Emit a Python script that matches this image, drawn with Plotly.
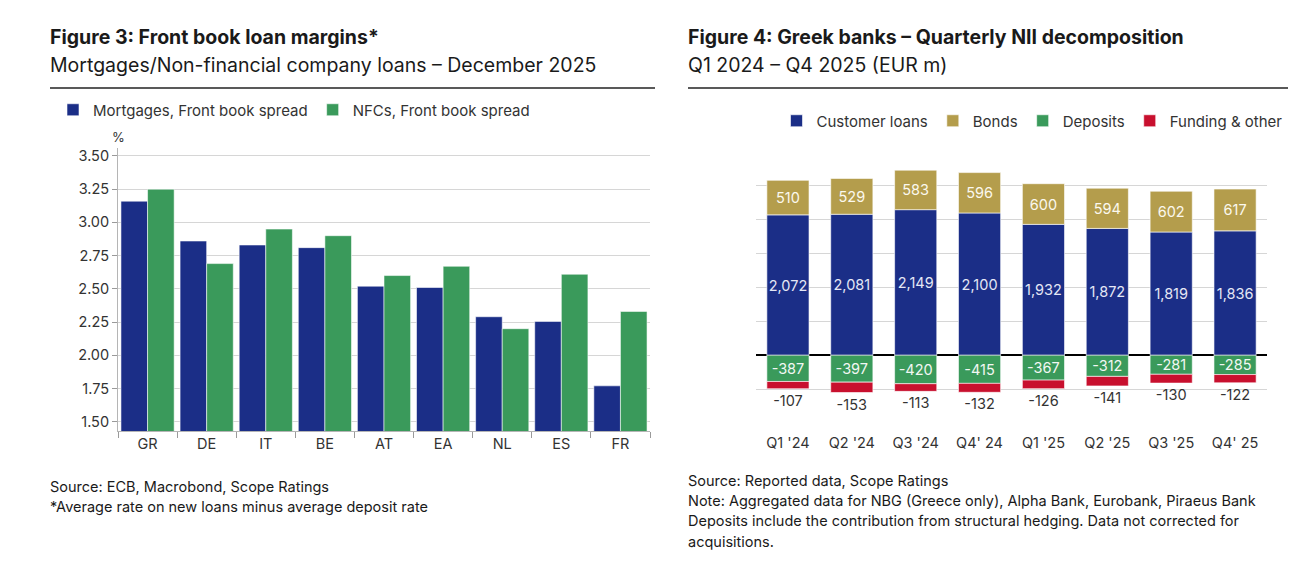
import plotly.graph_objects as go

# ---- Figure 3 data ----
countries = ["GR", "DE", "IT", "BE", "AT", "EA", "NL", "ES", "FR"]
mortgages = [3.16, 2.86, 2.83, 2.81, 2.52, 2.51, 2.29, 2.255, 1.77]
nfcs = [3.25, 2.69, 2.95, 2.90, 2.60, 2.67, 2.20, 2.61, 2.33]
ticks_left = [1.50, 1.75, 2.00, 2.25, 2.50, 2.75, 3.00, 3.25, 3.50]

# ---- Figure 4 data ----
quarters = ["Q1 '24", "Q2 '24", "Q3 '24", "Q4' 24", "Q1 '25", "Q2 '25", "Q3 '25", "Q4' 25"]
customer_loans = [2072, 2081, 2149, 2100, 1932, 1872, 1819, 1836]
bonds = [510, 529, 583, 596, 600, 594, 602, 617]
deposits = [-387, -397, -420, -415, -367, -312, -281, -285]
funding = [-107, -153, -113, -132, -126, -141, -130, -122]

BLUE = "#1b2e87"
GREEN = "#3a9a5b"
GOLD = "#b49d4c"
RED = "#c8102e"
FONT = "Inter"
OFF = 8  # default page body margin
W, H = 1310 - 2 * OFF, 561 - 2 * OFF


def px(x):
    return (x - OFF) / W


def py(y):
    return 1 - (y - OFF) / H


fig = go.Figure()

# Left chart (grouped: separate offset groups)
fig.add_trace(go.Bar(x=countries, y=mortgages, name="Mortgages, Front book spread",
                     offsetgroup="mort",
                     marker=dict(color=BLUE, line=dict(color="rgba(255,255,255,0.7)", width=0.8)),
                     xaxis="x", yaxis="y", legend="legend", hoverinfo="x+y"))
fig.add_trace(go.Bar(x=countries, y=nfcs, name="NFCs, Front book spread",
                     offsetgroup="nfc",
                     marker=dict(color=GREEN, line=dict(color="rgba(255,255,255,0.7)", width=0.8)),
                     xaxis="x", yaxis="y", legend="legend", hoverinfo="x+y"))

# Right chart (stacked: one offset group)
common = dict(xaxis="x2", yaxis="y2", legend="legend2", constraintext="none",
              textangle=0, cliponaxis=False, offsetgroup="nii", width=0.66)
line_w = dict(color="rgba(255,255,255,0.6)", width=1)
fig.add_trace(go.Bar(x=quarters, y=customer_loans, name="Customer loans",
                     text=[f"{v:,}" for v in customer_loans], textposition="inside",
                     insidetextanchor="middle",
                     insidetextfont=dict(family=FONT, size=14.5, color="#e4e7f5"),
                     marker=dict(color=BLUE, line=line_w), **common))
fig.add_trace(go.Bar(x=quarters, y=bonds, name="Bonds",
                     text=[f"{v:,}" for v in bonds], textposition="inside",
                     insidetextanchor="middle",
                     insidetextfont=dict(family=FONT, size=14.5, color="#fbf8ee"),
                     marker=dict(color=GOLD, line=line_w), **common))
fig.add_trace(go.Bar(x=quarters, y=deposits, name="Deposits",
                     text=[f"{v}" for v in deposits], textposition="inside",
                     insidetextanchor="middle",
                     insidetextfont=dict(family=FONT, size=14.5, color="#f2f7f3"),
                     marker=dict(color=GREEN, line=line_w), **common))
fig.add_trace(go.Bar(x=quarters, y=funding, name="Funding & other",
                     text=[f"{v}" for v in funding], textposition="outside",
                     outsidetextfont=dict(family=FONT, size=14.5, color="#333333"),
                     marker=dict(color=RED, line=line_w), **common))

axis_font = dict(family=FONT, size=14.5, color="#333333")
legend_font = dict(family=FONT, size=15, color="#333333")

fig.update_layout(
    width=W, height=H,
    margin=dict(l=0, r=0, t=0, b=0),
    paper_bgcolor="white", plot_bgcolor="white",
    barmode="relative",
    bargap=0.1, bargroupgap=0.0,
    font=dict(family=FONT, size=14, color="#222222"),
    showlegend=True,
    xaxis=dict(domain=[px(118), px(650)], anchor="y", showline=True, linecolor="#b5b5b5",
               linewidth=1, ticks="outside", tickson="boundaries", ticklen=6,
               tickcolor="#9a9a9a", tickfont=axis_font, showgrid=False),
    yaxis=dict(domain=[py(431), py(148)], anchor="x", range=[1.43, 3.56],
               tickvals=ticks_left, tickformat=".2f", showline=True, linecolor="#b5b5b5",
               linewidth=1, ticks="outside", ticklen=5, tickcolor="#9a9a9a",
               tickfont=axis_font, gridcolor="#d6d6d6", gridwidth=1, zeroline=False),
    xaxis2=dict(domain=[px(756), px(1267)], anchor="y2", showline=False, ticks="outside",
                ticklen=7, tickcolor="rgba(0,0,0,0)",
                tickfont=dict(family=FONT, size=14.5, color="#333333"), showgrid=False),
    yaxis2=dict(domain=[py(423), py(152)], anchor="x2", range=[-1000, 3000], dtick=500,
                showticklabels=False, ticks="", showline=False, gridcolor="#d6d6d6",
                gridwidth=1, zeroline=True, zerolinecolor="#000000", zerolinewidth=2),
    legend=dict(orientation="h", x=px(294), xanchor="center", y=py(110), yanchor="middle",
                font=legend_font, bgcolor="rgba(0,0,0,0)",
                itemclick=False, itemdoubleclick=False, traceorder="normal"),
    legend2=dict(orientation="h", x=px(1032), xanchor="center", y=py(121), yanchor="middle",
                 font=legend_font, bgcolor="rgba(0,0,0,0)",
                 itemclick=False, itemdoubleclick=False, traceorder="normal"),
)

# Header rules
fig.add_shape(type="line", xref="paper", yref="paper", x0=px(50), x1=px(655), y0=py(88), y1=py(88),
              line=dict(color="#222222", width=1.5))
fig.add_shape(type="line", xref="paper", yref="paper", x0=px(688), x1=px(1288), y0=py(88), y1=py(88),
              line=dict(color="#222222", width=1.5))


def note(text, x, y, size=14.5, bold=False, color="#1a1a1a"):
    fig.add_annotation(text=f"<b>{text}</b>" if bold else text, xref="paper", yref="paper",
                       x=px(x), y=py(y), xanchor="left", yanchor="middle", showarrow=False,
                       align="left", font=dict(family=FONT, size=size, color=color))


note("Figure 3: Front book loan margins*", 48, 37, size=19.5, bold=True)
note("Mortgages/Non-financial company loans \u2013 December 2025", 48, 65, size=19.5)
note("Figure 4: Greek banks \u2013 Quarterly NII decomposition", 686, 37, size=19.5, bold=True)
note("Q1 2024 \u2013 Q4 2025 (EUR m)", 686, 65, size=19.5)

note("Source: ECB, Macrobond, Scope Ratings", 48, 487)
note("*Average rate on new loans minus average deposit rate", 48, 507)
note("Source: Reported data, Scope Ratings", 686, 481)
note("Note: Aggregated data for NBG (Greece only), Alpha Bank, Eurobank, Piraeus Bank", 686, 501)
note("Deposits include the contribution from structural hedging. Data not corrected for", 686, 521)
note("acquisitions.", 686, 541)

# % unit label
fig.add_annotation(text="%", xref="paper", yref="paper", x=px(118), y=py(137), xanchor="center",
                   yanchor="middle", showarrow=False, font=dict(family=FONT, size=13, color="#333333"))

fig.write_html("out.html")
